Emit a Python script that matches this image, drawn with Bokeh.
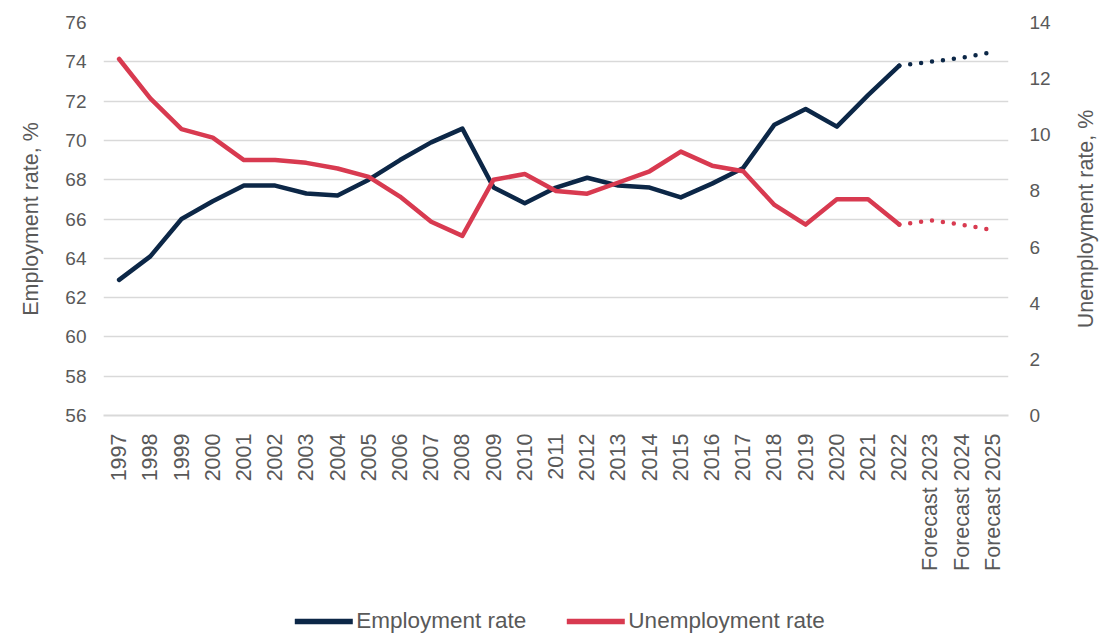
import math
from bokeh.plotting import figure
from bokeh.layouts import column, row
from bokeh.core.properties import value
from bokeh.models import Range1d, LinearAxis, Legend, LegendItem, FactorRange, FixedTicker
from bokeh.embed import file_html
from bokeh.resources import INLINE

categories = ["1997", "1998", "1999", "2000", "2001", "2002", "2003", "2004", "2005",
              "2006", "2007", "2008", "2009", "2010", "2011", "2012", "2013", "2014",
              "2015", "2016", "2017", "2018", "2019", "2020", "2021", "2022",
              "Forecast 2023", "Forecast 2024", "Forecast 2025"]
employment = [62.9, 64.1, 66.0, 66.9, 67.7, 67.7, 67.3, 67.2, 68.0, 69.0, 69.9, 70.6,
              67.6, 66.8, 67.6, 68.1, 67.7, 67.6, 67.1, 67.8, 68.6, 70.8, 71.6, 70.7,
              72.3, 73.8, 74.0, 74.2, 74.5]
unemployment = [12.7, 11.3, 10.2, 9.9, 9.1, 9.1, 9.0, 8.8, 8.5, 7.8, 6.9, 6.4,
                8.4, 8.6, 8.0, 7.9, 8.3, 8.7, 9.4, 8.9, 8.7, 7.5, 6.8, 7.7,
                7.7, 6.8, 6.95, 6.8, 6.6]
n_actual = 26  # 1997..2022 actual, the rest forecast
left_ticks = [56, 58, 60, 62, 64, 66, 68, 70, 72, 74, 76]
right_ticks = [0, 2, 4, 6, 8, 10, 12, 14]
series_names = ["Employment rate", "Unemployment rate"]
right_title = "Unemployment rate, %"

NAVY = "#0c2747"
RED = "#d83a50"
GREY = "#595959"
FONT = "Liberation Sans"

main = figure(x_range=FactorRange(*categories), y_range=Range1d(56, 76),
              width=1060, height=606,
              output_backend="svg", toolbar_location=None,
              min_border_left=103, min_border_right=52, min_border_top=22,
              min_border_bottom=191)
main.outline_line_color = None
main.background_fill_color = "white"
main.extra_y_ranges = {"u": Range1d(0, 14)}

# grid
main.xgrid.grid_line_color = None
main.ygrid.grid_line_color = "#d9d9d9"
main.ygrid.grid_line_width = 1.5
main.ygrid.ticker = FixedTicker(ticks=left_ticks)

# left axis
ya = main.yaxis[0]
ya.ticker = FixedTicker(ticks=left_ticks)
ya.axis_line_color = None
ya.major_tick_line_color = None
ya.minor_tick_line_color = None
ya.major_label_text_font = FONT
ya.major_label_text_font_size = "19px"
ya.major_label_text_color = GREY
ya.major_label_standoff = 11
ya.axis_label = "Employment rate, %"
ya.axis_label_text_font = FONT
ya.axis_label_text_font_size = "21.5px"
ya.axis_label_text_font_style = "normal"
ya.axis_label_text_color = GREY
ya.axis_label_standoff = 19

# right axis (ticks only; its title is drawn in the strip beside it)
ra = LinearAxis(y_range_name="u", ticker=FixedTicker(ticks=right_ticks))
ra.axis_line_color = None
ra.major_tick_line_color = None
ra.minor_tick_line_color = None
ra.major_label_text_font = FONT
ra.major_label_text_font_size = "19px"
ra.major_label_text_color = GREY
ra.major_label_standoff = 15
main.add_layout(ra, "right")

# bottom axis
xa = main.xaxis[0]
xa.axis_line_color = "#d9d9d9"
xa.axis_line_width = 2
xa.major_tick_line_color = None
xa.minor_tick_line_color = None
xa.major_label_orientation = math.pi / 2
xa.major_label_text_font = FONT
xa.major_label_text_font_size = "21.5px"
xa.major_label_text_color = GREY
xa.major_label_standoff = 12
main.x_range.range_padding = 0
main.x_range.group_padding = 0

# lines
main.line(categories[:n_actual], employment[:n_actual], line_color=NAVY,
          line_width=4.5, line_join="round", line_cap="round")
main.line(categories[:n_actual], unemployment[:n_actual], line_color=RED,
          line_width=4.5, line_join="round", line_cap="round", y_range_name="u")
main.line(categories[n_actual - 1:], employment[n_actual - 1:], line_color=NAVY,
          line_width=4.5, line_dash="0 11", line_cap="round")
main.line(categories[n_actual - 1:], unemployment[n_actual - 1:], line_color=RED,
          line_width=4.5, line_dash="0 11", line_cap="round", y_range_name="u")

# right title strip (reads bottom-to-top like the left title)
rfig = figure(width=59, height=606, output_backend="svg", toolbar_location=None,
              x_axis_type=None, y_axis_type=None,
              min_border_left=0, min_border_right=0, min_border_top=22, min_border_bottom=191,
              x_range=Range1d(0, 59), y_range=Range1d(0, 14))
rfig.outline_line_color = None
rfig.xgrid.grid_line_color = None
rfig.ygrid.grid_line_color = None
rfig.text(x=[25], y=[7], text=[right_title], angle=math.pi / 2,
          text_align="center", text_baseline="middle",
          text_font=value(FONT), text_font_size="21.5px", text_color=GREY)

# legend strip
leg_fig = figure(width=1119, height=30, output_backend="svg", toolbar_location=None,
                 x_axis_type=None, y_axis_type=None,
                 min_border_left=0, min_border_right=0, min_border_top=0, min_border_bottom=0,
                 x_range=Range1d(0, 1), y_range=Range1d(0, 1))
leg_fig.outline_line_color = None
leg_fig.xgrid.grid_line_color = None
leg_fig.ygrid.grid_line_color = None
r_emp = leg_fig.line(x=[5, 6], y=[5, 6], line_color=NAVY, line_width=5.5, line_cap="round")
r_unemp = leg_fig.line(x=[5, 6], y=[5, 6], line_color=RED, line_width=5.5, line_cap="round")
legend = Legend(items=[LegendItem(label=series_names[0], renderers=[r_emp]),
                       LegendItem(label=series_names[1], renderers=[r_unemp])],
                orientation="horizontal", location="center")
legend.border_line_color = None
legend.background_fill_alpha = 0
legend.label_text_font = FONT
legend.label_text_font_size = "22.5px"
legend.label_text_color = GREY
legend.glyph_width = 58
legend.glyph_height = 24
legend.label_standoff = 4
legend.spacing = 40
legend.margin = 0
legend.padding = 0
leg_fig.add_layout(legend, "center")

p = column(row(main, rfig, spacing=0), leg_fig, spacing=0)
open("out.html", "w").write(file_html(p, INLINE))
